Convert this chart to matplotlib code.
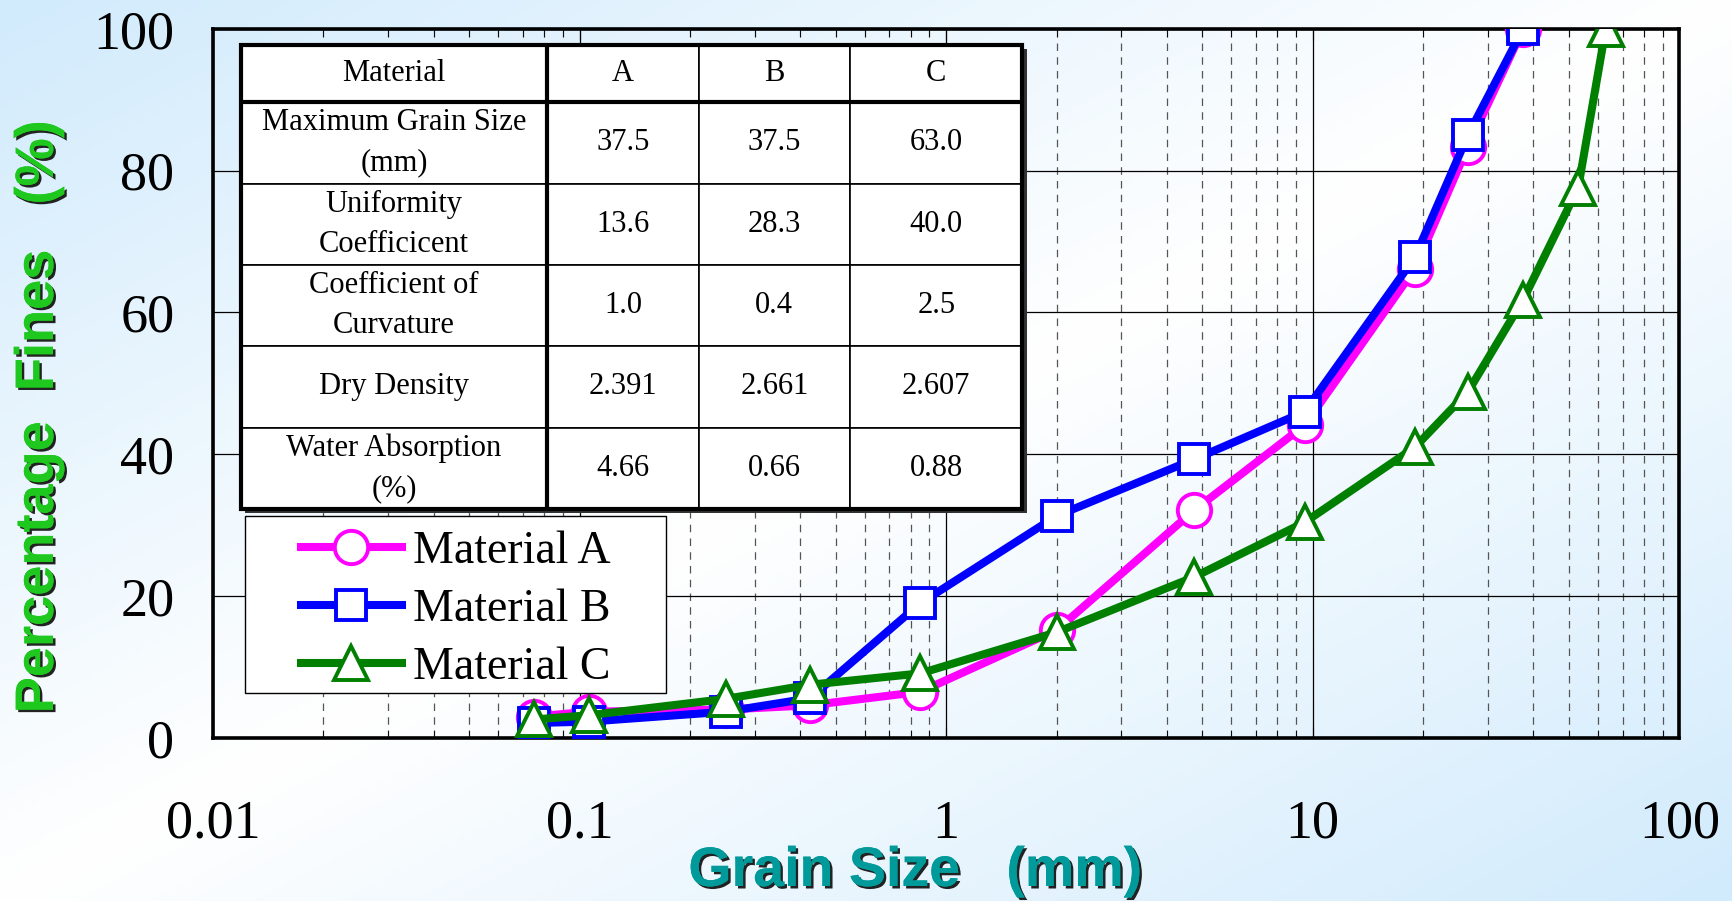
import numpy as np
import matplotlib
matplotlib.use('Agg')
import matplotlib.pyplot as plt
import matplotlib.patheffects as pe
from matplotlib.patches import Rectangle
from matplotlib.ticker import FuncFormatter, LogLocator, NullFormatter


# sieve sizes (mm)
sieve = [0.075, 0.106, 0.25, 0.425, 0.85, 2.0, 4.75, 9.5, 19.0, 26.5, 37.5]
sieve_c = sieve + [53.0, 63.0]

# percent passing for each material
pass_a = [3.0, 3.7, 4.0, 4.6, 6.5, 15.2, 32.1, 44.1, 66.2, 83.4, 100.0]
pass_b = [2.1, 2.3, 3.7, 5.6, 19.0, 31.3, 39.3, 46.0, 67.8, 85.0, 100.0]
pass_c = [2.6, 3.2, 5.5, 7.5, 9.1, 14.9, 22.7, 30.4, 41.0, 48.8, 61.8, 77.6, 100.0]

# properties table
col_labels = ['Material', 'A', 'B', 'C']
row_labels = ['Maximum Grain Size\n(mm)', 'Uniformity\nCoefficicent',
              'Coefficient of\nCurvature', 'Dry Density', 'Water Absorption\n(%)']
max_size = ['37.5', '37.5', '63.0']
uniformity = ['13.6', '28.3', '40.0']
curvature = ['1.0', '0.4', '2.5']
density = ['2.391', '2.661', '2.607']
absorption = ['4.66', '0.66', '0.88']

x_ticks = [0.01, 0.1, 1, 10, 100]
y_ticks = [0, 20, 40, 60, 80, 100]


plt.rcParams['font.family'] = ['Liberation Serif', 'DejaVu Serif']

fig = plt.figure(figsize=(17.33, 9.01), dpi=100)

# background gradient: light blue corners, white band across the middle
bg = fig.add_axes([0, 0, 1, 1], zorder=-5)
gx, gy = np.meshgrid(np.linspace(0, 1, 400), np.linspace(0, 1, 220))
t = np.abs((gx + gy) - 1.0)
c_white = np.array([1.0, 1.0, 1.0])
c_blue = np.array([0.82, 0.92, 0.99])
img = c_white[None, None, :] * (1 - t[..., None]) + c_blue[None, None, :] * t[..., None]
bg.imshow(img, aspect='auto', extent=[0, 1, 0, 1], origin='upper')
bg.axis('off')

ax = fig.add_axes([0.123, 0.181, 0.846, 0.787])
ax.patch.set_alpha(0)

lw = 5.8
ms = 24
mew = 2.8
ax.plot(sieve, pass_a, '-o', color='#ff00ff', lw=lw, ms=ms, mfc='white',
        mec='#ff00ff', mew=mew, label='Material A', zorder=3)
ax.plot(sieve, pass_b, '-s', color='#0000ff', lw=lw, ms=ms - 3, mfc='white',
        mec='#0000ff', mew=mew, label='Material B', zorder=4)
ax.plot(sieve_c, pass_c, '-^', color='#007f00', lw=lw, ms=ms, mfc='white',
        mec='#007f00', mew=mew, label='Material C', zorder=5)

ax.set_xscale('log')
ax.set_xlim(0.01, 100)
ax.set_ylim(0, 100)
ax.set_xticks(x_ticks)
ax.xaxis.set_major_formatter(FuncFormatter(lambda v, p: '%g' % v))
ax.xaxis.set_minor_locator(LogLocator(base=10, subs=np.arange(2, 10)))
ax.xaxis.set_minor_formatter(NullFormatter())
ax.set_yticks(y_ticks)

ax.tick_params(axis='x', which='major', direction='in', top=True, length=8,
               labelsize=39, pad=44)
ax.tick_params(axis='x', which='minor', direction='in', top=True, length=6)
ax.tick_params(axis='y', which='major', direction='in', length=0,
               labelsize=39, pad=28)

ax.grid(which='major', color='black', lw=0.9, ls='-', zorder=1)
ax.grid(which='minor', axis='x', color='#555555', lw=0.9, ls=(0, (6, 5)), zorder=1)
ax.set_axisbelow(True)
for sp in ax.spines.values():
    sp.set_linewidth(2.6)

# table of material properties
cell_text = [[row_labels[0]] + max_size,
             [row_labels[1]] + uniformity,
             [row_labels[2]] + curvature,
             [row_labels[3]] + density,
             [row_labels[4]] + absorption]
col_w = np.array([277, 137, 137, 156], dtype=float)
col_w = col_w / col_w.sum()
tb_x, tb_y, tb_w, tb_h = 0.019, 0.323, 0.533, 0.654

# drop shadow behind the table
ax.add_patch(Rectangle((tb_x + 0.003, tb_y - 0.006), tb_w, tb_h,
                       transform=ax.transAxes, facecolor='#333333',
                       edgecolor='none', zorder=9))

tab = ax.table(cellText=cell_text, colLabels=col_labels, cellLoc='center',
               colWidths=list(col_w), bbox=[tb_x, tb_y, tb_w, tb_h], zorder=10)
tab.auto_set_font_size(False)
tab.set_fontsize(22)
for (r, c), cell in tab.get_celld().items():
    cell.set_linewidth(1.2)
    cell.set_edgecolor('black')
    cell.set_facecolor('white')
    cell.set_height(52 if r == 0 else 74)
    cell.get_text().set_fontfamily('Liberation Serif')
    cell.get_text().set_linespacing(1.5)

# thicker outer border, header rule and first column rule
head_h = tb_h * 52 / (52 + 5 * 74)
ax.add_patch(Rectangle((tb_x, tb_y), tb_w, tb_h, transform=ax.transAxes,
                       facecolor='none', edgecolor='black', lw=3, zorder=11))
ax.plot([tb_x, tb_x + tb_w], [tb_y + tb_h - head_h] * 2, color='black', lw=3,
        transform=ax.transAxes, zorder=11, solid_capstyle='butt')
ax.plot([tb_x + tb_w * col_w[0]] * 2, [tb_y, tb_y + tb_h], color='black', lw=3,
        transform=ax.transAxes, zorder=11, solid_capstyle='butt')

# legend in a white box
lg_x0, lg_y0, lg_x1, lg_y1 = 0.0218, 0.0635, 0.309, 0.313
ax.add_patch(Rectangle((lg_x0, lg_y0), lg_x1 - lg_x0, lg_y1 - lg_y0,
                       transform=ax.transAxes, facecolor='white',
                       edgecolor='black', lw=1.0, zorder=12))
leg = ax.legend(loc='center',
                bbox_to_anchor=((lg_x0 + lg_x1) / 2, (lg_y0 + lg_y1) / 2 - 0.008),
                frameon=False, fontsize=33, handlelength=2.2, handletextpad=0.25,
                labelspacing=0.34, borderaxespad=0, borderpad=0.1)
leg.set_zorder(13)

# axis titles with a dark drop shadow
shadow = [pe.withSimplePatchShadow(offset=(1.8, -1.8), shadow_rgbFace='#222222', alpha=1.0),
          pe.Normal()]
fig.text(39 / 1733, 1 - 417 / 901, 'Percentage  Fines   (%)', rotation=90,
         ha='center', va='center', fontsize=39, fontweight='bold',
         family=['Liberation Sans', 'DejaVu Sans'], color='#1ec81e', path_effects=shadow)
fig.text(915 / 1733, 1 - 872 / 901, 'Grain Size   (mm)', ha='center', va='center',
         fontsize=40, fontweight='bold', family=['Liberation Sans', 'DejaVu Sans'],
         color='#009a9a', path_effects=shadow)

fig.savefig('out.png', dpi=100)
